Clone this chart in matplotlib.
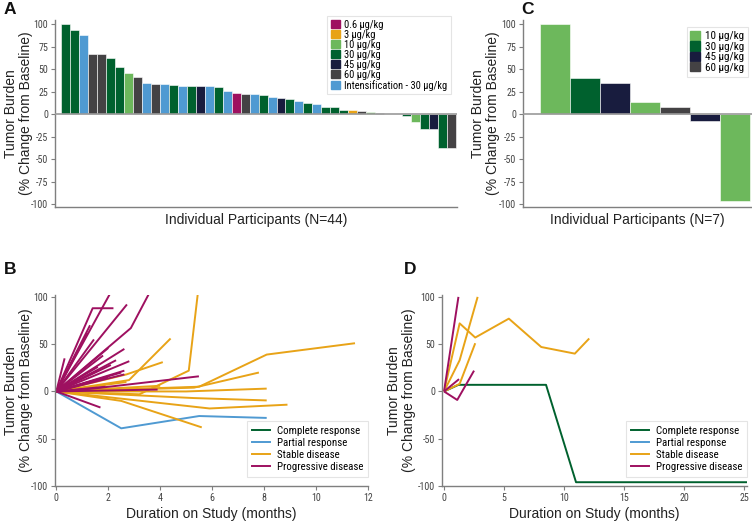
import matplotlib
matplotlib.use("Agg")
import matplotlib.pyplot as plt
from matplotlib import font_manager
from matplotlib.font_manager import FontProperties
from matplotlib.patches import Patch
from matplotlib.lines import Line2D

# colours per dose / response
C_MAG = '#9E1060'
C_ORA = '#E8A317'
C_LGR = '#6DB85C'
C_GRN = '#00612E'
C_NAV = '#181C3E'
C_GRY = '#444244'
C_BLU = '#4F9AD2'

dose_labels_a = ['0.6 µg/kg', '3 µg/kg', '10 µg/kg', '30 µg/kg', '45 µg/kg', '60 µg/kg',
                 'Intensification - 30 µg/kg']
dose_colors_a = [C_MAG, C_ORA, C_LGR, C_GRN, C_NAV, C_GRY, C_BLU]

# panel A: best change per participant (dose group index into dose_labels_a)
a_values = [100, 93, 88, 67, 67, 62, 52, 46, 41, 35, 34, 33, 32.5, 31.8, 31.5, 31, 31, 30,
            26, 23.5, 22, 22, 21, 19, 17.5, 17, 15, 12, 11, 8, 7.5, 5, 4.5, 3.8, 2, 0.8,
            0, 0, -2, -8.5, -16, -17, -37, -38]
a_groups = [3, 3, 6, 5, 5, 3, 3, 2, 5, 6, 5, 6, 3, 6, 3, 4, 6, 3,
            6, 0, 5, 6, 3, 6, 4, 3, 6, 3, 6, 3, 3, 3, 1, 5, 2, 5,
            5, 5, 3, 2, 3, 4, 3, 5]

# panel C
dose_labels_c = ['10 µg/kg', '30 µg/kg', '45 µg/kg', '60 µg/kg']
dose_colors_c = [C_LGR, C_GRN, C_NAV, C_GRY]
c_values = [100, 40, 35, 13, 7.5, -8, -96]
c_groups = [0, 1, 2, 0, 3, 2, 0]

# panel B: (months, % change) per participant
b_cr = []
b_pr = [([0, 2.5, 5.5, 8.1], [0, -39, -26, -28])]
b_sd = [
    ([0, 2.8, 4.4], [0, 12, 56]),
    ([0, 2.7, 4.1], [0, 18, 31]),
    ([0, 3.2, 5.1, 5.45], [0, -3, 22, 104]),
    ([0, 5.5, 8.1, 11.5], [0, 5, 39, 51]),
    ([0, 5.3, 7.8], [0, 4, 20]),
    ([0, 5.0, 8.1], [0, 0, 3]),
    ([0, 5.3, 8.1], [0, -7, -9.5]),
    ([0, 5.9, 8.9], [0, -18, -14]),
    ([0, 2.5, 5.6], [0, -10, -38]),
    ([0, 2.7], [0, 10]),
    ([0, 4.0], [0, 6]),
]
b_pd = [
    ([0, 2.08], [0, 104]),
    ([0, 1.4, 2.2], [0, 88, 88]),
    ([0, 2.72], [0, 92]),
    ([0, 2.87, 3.58], [0, 67, 104]),
    ([0, 1.3], [0, 70]),
    ([0, 1.2], [0, 62]),
    ([0, 1.45], [0, 55]),
    ([0, 2.62], [0, 45]),
    ([0, 2.0], [0, 46]),
    ([0, 1.8], [0, 38]),
    ([0, 0.32], [0, 35]),
    ([0, 2.81], [0, 32]),
    ([0, 2.3], [0, 33]),
    ([0, 2.1], [0, 28]),
    ([0, 1.6], [0, 26]),
    ([0, 2.62], [0, 22]),
    ([0, 2.62], [0, 18]),
    ([0, 2.5], [0, 20]),
    ([0, 2.0], [0, 15]),
    ([0, 1.5], [0, 12]),
    ([0, 1.7], [0, -17]),
    ([0, 1.4, 5.49], [0, 3, 16]),
    ([0, 3.9], [0, 2]),
    ([0, 1.9], [0, 5]),
]

# panel D
d_cr = [([0, 1.2, 8.5, 11.0, 25.3], [0, 7, 7, -96, -96])]
d_pr = []
d_sd = [
    ([0, 1.3, 2.6, 5.4, 8.1, 10.9, 12.1], [0, 72, 57, 77, 47, 40, 56]),
    ([0, 1.3, 2.8], [0, 33, 100]),
    ([0, 1.3, 2.6], [0, 8, 51]),
]
d_pd = [
    ([0, 1.2], [0, 100]),
    ([0, 1.1, 2.5], [0, -9, 22]),
    ([0, 1.25], [0, 13]),
]

resp_labels = ['Complete response', 'Partial response', 'Stable disease', 'Progressive disease']
resp_colors = [C_GRN, C_BLU, C_ORA, C_MAG]

# condensed face for ticks / legends (Roboto Condensed if present), else shrink the regular one
narrow_file = None
for f in font_manager.fontManager.ttflist:
    if f.style != 'normal' or f.weight not in (400, 'normal', 'regular'):
        continue
    is_narrow = ('Narrow' in f.name or 'Condensed' in f.name
                 or f.stretch in ('condensed', 'semi-condensed', 'extra-condensed'))
    if is_narrow and 'Mono' not in f.name and 'Serif' not in f.name:
        narrow_file = f.fname
        if 'Liberation' in f.name or 'Roboto' in f.name:
            break
SCALE = 1.0 if narrow_file else 0.84


def small_font(size):
    if narrow_file:
        return FontProperties(fname=narrow_file, size=size)
    return FontProperties(family='Liberation Sans', size=size * SCALE)


plt.rcParams['font.family'] = ['Liberation Sans', 'DejaVu Sans']
plt.rcParams['axes.unicode_minus'] = False
SPINE = '#7f7f7f'
TXT = '#222222'
YLABEL = 'Tumor Burden\n(% Change from Baseline)'
W, H = 752, 523


def style_axes(ax):
    for s in ['top', 'right']:
        ax.spines[s].set_visible(False)
    for s in ['left', 'bottom']:
        ax.spines[s].set_color(SPINE)
        ax.spines[s].set_linewidth(1.0)
    ax.tick_params(colors=SPINE, labelcolor='#444444', length=3, width=0.8, pad=2)
    for lab in ax.get_xticklabels() + ax.get_yticklabels():
        lab.set_fontproperties(small_font(7.2))


def set_ylabel(ax, right_px):
    ax.set_ylabel(YLABEL, fontsize=10, color=TXT, linespacing=1.05)
    x0 = ax.get_position().x0 * W
    ax.yaxis.set_label_coords((right_px - x0) / (ax.get_position().width * W), 0.5)


def waterfall(ax, values, groups, colors, xlim, label, ylab_px):
    xs = range(len(values))
    ax.bar(xs, values, width=1.0, color=[colors[g] for g in groups],
           edgecolor='white', linewidth=0.4, zorder=2)
    ax.axhline(0, color='#9a9a9a', lw=1.2, zorder=3)
    ax.set_xlim(*xlim)
    ax.set_ylim(-103, 104.5)
    ax.set_yticks([100, 75, 50, 25, 0, -25, -50, -75, -100])
    ax.set_xticks([])
    set_ylabel(ax, ylab_px)
    ax.set_xlabel(label, fontsize=10, color=TXT, labelpad=4)
    style_axes(ax)


def spider(ax, groups, xlim, xticks, ylab_px):
    for lines, col in zip(groups, resp_colors):
        for xs, ys in lines:
            ax.plot(xs, ys, color=col, lw=1.4, solid_capstyle='butt')
    ax.set_xlim(*xlim)
    ax.set_ylim(-100, 102)
    ax.set_yticks([100, 50, 0, -50, -100])
    ax.set_xticks(xticks)
    set_ylabel(ax, ylab_px)
    ax.set_xlabel('Duration on Study (months)', fontsize=10, color=TXT, labelpad=3)
    style_axes(ax)
    handles = [Line2D([], [], color=c, lw=1.4) for c in resp_colors]
    leg = ax.legend(handles, resp_labels, loc='lower right', bbox_to_anchor=(1.0, 0.047),
                    borderaxespad=0, prop=small_font(7.8), handlelength=1.7,
                    labelspacing=0.2, borderpad=0.45, handletextpad=0.6,
                    fancybox=False, framealpha=1)
    leg.get_frame().set_edgecolor('#e4e4e4')
    leg.get_frame().set_linewidth(0.8)


def dose_legend(ax, colors, labels, anchor, size):
    leg = ax.legend([Patch(color=c) for c in colors], labels,
                    loc='upper right', bbox_to_anchor=anchor, borderaxespad=0,
                    prop=small_font(size), handlelength=0.9, handleheight=0.9,
                    labelspacing=0.0, borderpad=0.35, handletextpad=0.4,
                    fancybox=False, framealpha=1)
    leg.get_frame().set_edgecolor('#e4e4e4')
    leg.get_frame().set_linewidth(0.8)


fig = plt.figure(figsize=(7.52, 5.23), dpi=100)


def add_ax(x0, y0, x1, y1):
    return fig.add_axes([x0 / W, 1 - y1 / H, (x1 - x0) / W, (y1 - y0) / H])


axA = add_ax(55, 20, 457, 207)
waterfall(axA, a_values, a_groups, dose_colors_a, (-1.17, 43.6),
          'Individual Participants (N=44)', 33)
dose_legend(axA, dose_colors_a, dose_labels_a, ((451 - 55) / 402, (207 - 16) / 187), 7.5)

axC = add_ax(523, 20, 752, 207)
waterfall(axC, c_values, c_groups, dose_colors_c, (-1.07, 6.56),
          'Individual Participants (N=7)', 500)
dose_legend(axC, dose_colors_c, dose_labels_c, ((748 - 523) / 229, (207 - 27) / 187), 8)

axB = add_ax(55, 295, 368, 486)
spider(axB, [b_cr, b_pr, b_sd, b_pd], (-0.05, 12), [0, 2, 4, 6, 8, 10, 12], 33)

axD = add_ax(442, 295, 747, 486)
spider(axD, [d_cr, d_pr, d_sd, d_pd], (-0.17, 25.25), [0, 5, 10, 15, 20, 25], 416)

for txt, x, y in [('A', 4, 2), ('C', 521, 2), ('B', 4, 262), ('D', 404, 262)]:
    fig.text(x / W, 1 - y / H, txt, fontsize=12.5, fontweight='bold', va='top', ha='left',
             color='#111111')

fig.savefig('out.png', dpi=100)
